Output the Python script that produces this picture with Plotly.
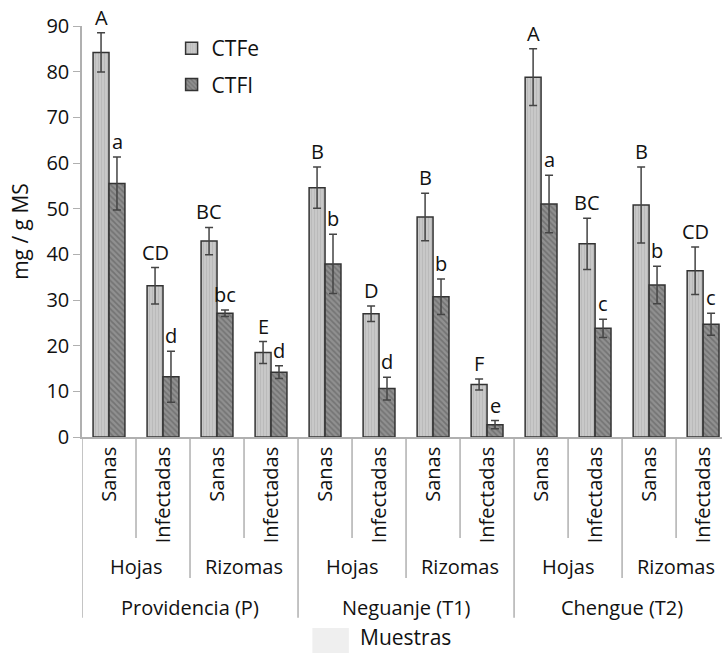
import plotly.graph_objects as go

# ---- data ----
sites = ["Providencia (P)", "Neguanje (T1)", "Chengue (T2)"]
organs = ["Hojas", "Rizomas"]
states = ["Sanas", "Infectadas"] * 6

ctfe = [84.2, 33.1, 42.9, 18.5, 54.6, 27.0, 48.2, 11.5, 78.8, 42.3, 50.8, 36.4]
ctfe_err = [4.3, 4.0, 3.0, 2.4, 4.5, 1.7, 5.2, 1.2, 6.2, 5.6, 8.3, 5.2]
ctfe_letters = ["A", "CD", "BC", "E", "B", "D", "B", "F", "A", "BC", "B", "CD"]

ctfi = [55.5, 13.2, 27.1, 14.2, 37.9, 10.6, 30.7, 2.7, 51.0, 23.8, 33.3, 24.7]
ctfi_err = [5.8, 5.6, 0.7, 1.4, 6.5, 2.5, 3.9, 0.9, 6.3, 2.0, 4.1, 2.4]
ctfi_letters = ["a", "d", "bc", "d", "b", "d", "b", "e", "a", "c", "b", "c"]

y_ticks = [0, 10, 20, 30, 40, 50, 60, 70, 80, 90]

FONT = "Open Sans"
TXT = "#111111"
idx = list(range(len(states)))

fig = go.Figure()
fig.add_trace(go.Bar(
    x=idx, y=ctfe, name="CTFe", legendgroup="e",
    marker=dict(color="#c4c4c4", line=dict(color="#333333", width=1.5),
                pattern=dict(shape="|", fgcolor="#acacac", bgcolor="#c8c8c8", size=3, solidity=0.35)),
    error_y=dict(type="data", array=ctfe_err, color="#444444", thickness=1.5, width=4),
))
fig.add_trace(go.Bar(
    x=idx, y=ctfi, name="CTFI", legendgroup="i",
    marker=dict(color="#8a8a8a", line=dict(color="#333333", width=1.5),
                pattern=dict(shape="\\", fgcolor="#555555", bgcolor="#909090", size=4, solidity=0.4)),
    error_y=dict(type="data", array=ctfi_err, color="#444444", thickness=1.5, width=4),
))

annotations = []
for i in idx:
    annotations.append(dict(x=i, y=ctfe[i] + ctfe_err[i], xref="x", yref="y", text=ctfe_letters[i],
                            showarrow=False, xshift=-8, yshift=0, yanchor="bottom",
                            font=dict(size=20, color=TXT, family=FONT)))
    annotations.append(dict(x=i, y=ctfi[i] + ctfi_err[i], xref="x", yref="y", text=ctfi_letters[i],
                            showarrow=False, xshift=8, yshift=0, yanchor="bottom",
                            font=dict(size=20, color=TXT, family=FONT)))

# level 2 labels (organs) and level 3 labels (sites)
for s in range(len(sites)):
    for o in range(len(organs)):
        annotations.append(dict(x=s * 4 + o * 2 + 0.5, y=-0.316, xref="x", yref="paper", text=organs[o],
                                showarrow=False, yanchor="middle",
                                font=dict(size=20, color=TXT, family=FONT)))
    annotations.append(dict(x=s * 4 + 1.5, y=-0.414, xref="x", yref="paper", text=sites[s],
                            showarrow=False, yanchor="middle",
                            font=dict(size=20, color=TXT, family=FONT)))

annotations.append(dict(x=0.506, y=-0.486, xref="paper", yref="paper", text="Muestras",
                        showarrow=False, yanchor="middle",
                        font=dict(size=21, color=TXT, family=FONT)))

shapes = []
line_col = "#b0b0b0"
for k in range(len(states) + 1):
    b = k - 0.5
    if k % 4 == 0:
        y1 = -0.44
    elif k % 2 == 0:
        y1 = -0.343
    else:
        y1 = -0.2457
    shapes.append(dict(type="line", xref="x", yref="paper", x0=b, x1=b, y0=0, y1=y1,
                       line=dict(color=line_col, width=1.5)))
# faint box near axis title (as in reference)
shapes.append(dict(type="rect", xref="paper", yref="paper", x0=0.36, x1=0.417, y0=-0.465, y1=-0.53,
                   fillcolor="#efefef", line=dict(width=0), layer="below"))

fig.update_layout(
    width=722, height=653,
    margin=dict(l=82, r=0, t=26, b=216),
    paper_bgcolor="white", plot_bgcolor="white",
    barmode="group", bargap=0.41, bargroupgap=0,
    font=dict(family=FONT, size=20, color=TXT),
    showlegend=True,
    legend=dict(x=0.14, y=0.995, xanchor="left", yanchor="top", tracegroupgap=6,
                font=dict(size=21, family=FONT, color=TXT), bgcolor="rgba(0,0,0,0)"),
    xaxis=dict(range=[-0.5, 11.35], tickvals=idx, ticktext=states, tickangle=-90,
               showline=True, linecolor=line_col, linewidth=1.5, ticks="", showgrid=False,
               zeroline=False, tickfont=dict(size=20, family=FONT, color=TXT)),
    yaxis=dict(range=[0, 90], tickvals=y_ticks, showline=True, linecolor=line_col, linewidth=1.5,
               ticks="outside", ticklen=7, tickcolor=line_col, showgrid=False, zeroline=False,
               tickfont=dict(size=20, family=FONT, color=TXT),
               title=dict(text="mg / g MS", font=dict(size=21, family=FONT, color=TXT), standoff=12)),
    annotations=annotations, shapes=shapes,
)

fig.write_html("out.html")
